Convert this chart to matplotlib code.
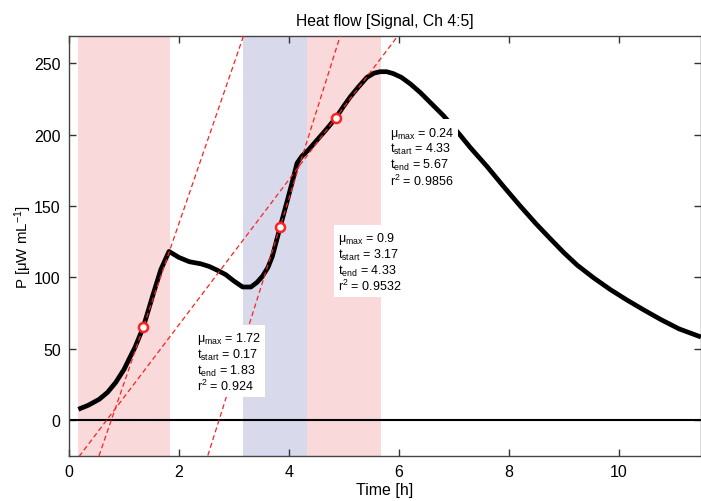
import matplotlib
matplotlib.use("Agg")
import matplotlib.pyplot as plt
import numpy as np

plt.rcParams['font.family'] = ['Liberation Sans', 'DejaVu Sans']
plt.rcParams['mathtext.fontset'] = 'custom'
plt.rcParams['mathtext.rm'] = 'Liberation Sans'
plt.rcParams['mathtext.it'] = 'Liberation Sans:italic'
plt.rcParams['mathtext.bf'] = 'Liberation Sans:bold'

# ---- data ----
time_h = [0.17, 0.35, 0.55, 0.70, 0.85, 1.00, 1.09, 1.20, 1.35, 1.52, 1.67, 1.82,
          2.00, 2.19, 2.40, 2.55, 2.70, 2.85, 3.00, 3.16, 3.31, 3.42, 3.52, 3.62,
          3.70, 3.84, 3.96, 4.05, 4.15, 4.24, 4.35, 4.51, 4.68, 4.85, 5.00, 5.12,
          5.27, 5.42, 5.55, 5.66, 5.78, 5.90, 6.05, 6.21, 6.39, 6.52, 6.82, 7.12,
          7.30, 7.61, 7.90, 8.21, 8.50, 8.76, 9.00, 9.25, 9.55, 9.85, 10.16,
          10.47, 10.77, 11.10, 11.50]
power = [7.7, 10.5, 14.7, 19.5, 26.5, 35.5, 42.6, 51.0, 65.0, 86.8, 105.4, 118.2,
         114.0, 111.0, 109.5, 107.7, 105.0, 102.0, 97.5, 93.3, 93.3, 96.5, 100.8, 107.0,
         114.7, 135.0, 152.0, 165.0, 180.0, 185.0, 189.0, 196.0, 203.5, 211.4, 220.0, 226.5,
         233.5, 240.0, 243.0, 244.0, 244.0, 242.7, 240.0, 235.5, 229.5, 224.5, 213.0, 199.5,
         191.0, 177.5, 164.0, 150.0, 137.5, 127.0, 117.5, 108.5, 99.6, 91.5, 84.0,
         77.0, 70.5, 64.0, 58.3]

mu_max = [1.72, 0.9, 0.24]
t_start = [0.17, 3.17, 4.33]
t_end = [1.83, 4.33, 5.67]
r2 = ['0.924', '0.9532', '0.9856']
mu_labels = ['1.72', '0.9', '0.24']
fit_t = [1.35, 3.84, 4.85]
fit_P = [65.0, 135.5, 211.5]
label_pos = [(2.33, 63.0), (4.89, 133.0), (5.85, 207.0)]
phase_colors = ['#f9d9d9', '#d9d9ec', '#f9d9d9']

fig = plt.figure(figsize=(7.01, 5.02), dpi=100)
ax = fig.add_axes([69/701, 45/502, 1 - 69/701, 420/502])

for ts, te, c in zip(t_start, t_end, phase_colors):
    ax.axvspan(ts, te, color=c, lw=0, zorder=0)

ax.axhline(0, color='black', lw=1.5, zorder=2)

ax.plot(time_h, power, color='black', lw=3.4, solid_capstyle='butt',
        solid_joinstyle='round', zorder=3)

xx = np.array([-1.0, 13.0])
for mu, tc, pc in zip(mu_max, fit_t, fit_P):
    slope = mu * pc
    ax.plot(xx, pc + slope * (xx - tc), color='#ff2020', lw=0.9,
            dashes=(4, 2.5), zorder=4)

ax.plot(fit_t, fit_P, 'o', ms=6.5, mfc='white', mec='#ff2020', mew=1.8, zorder=5)

for (lx, ly), m, ts, te, r in zip(label_pos, mu_labels, t_start, t_end, r2):
    txt = (f"μ$_{{\\mathrm{{max}}}}$ = {m}\n"
           f"t$_{{\\mathrm{{start}}}}$ = {ts:.2f}\n"
           f"t$_{{\\mathrm{{end}}}}$ = {te:.2f}\n"
           f"r$^{{2}}$ = {r}")
    ax.text(lx, ly, txt, fontsize=9, va='top', ha='left', linespacing=1.05,
            bbox=dict(facecolor='white', edgecolor='none', pad=2.5), zorder=6)

ax.set_xlim(0, 11.5)
ax.set_ylim(-25, 269)
ax.set_xticks([0, 2, 4, 6, 8, 10])
ax.set_yticks([0, 50, 100, 150, 200, 250])
ax.tick_params(direction='in', top=True, right=True, length=5, width=1,
               labelsize=11.5, colors='#333333', labelcolor='black', pad=6)
for s in ax.spines.values():
    s.set_color('#444444')
    s.set_linewidth(1.0)

ax.set_title('Heat flow [Signal, Ch 4:5]', fontsize=11.3, pad=8)
ax.set_xlabel('Time [h]', fontsize=11.5, labelpad=2)
ax.set_ylabel('P [μW mL$^{-1}$]', fontsize=10.8, labelpad=0)

fig.savefig('out.png', dpi=100)
